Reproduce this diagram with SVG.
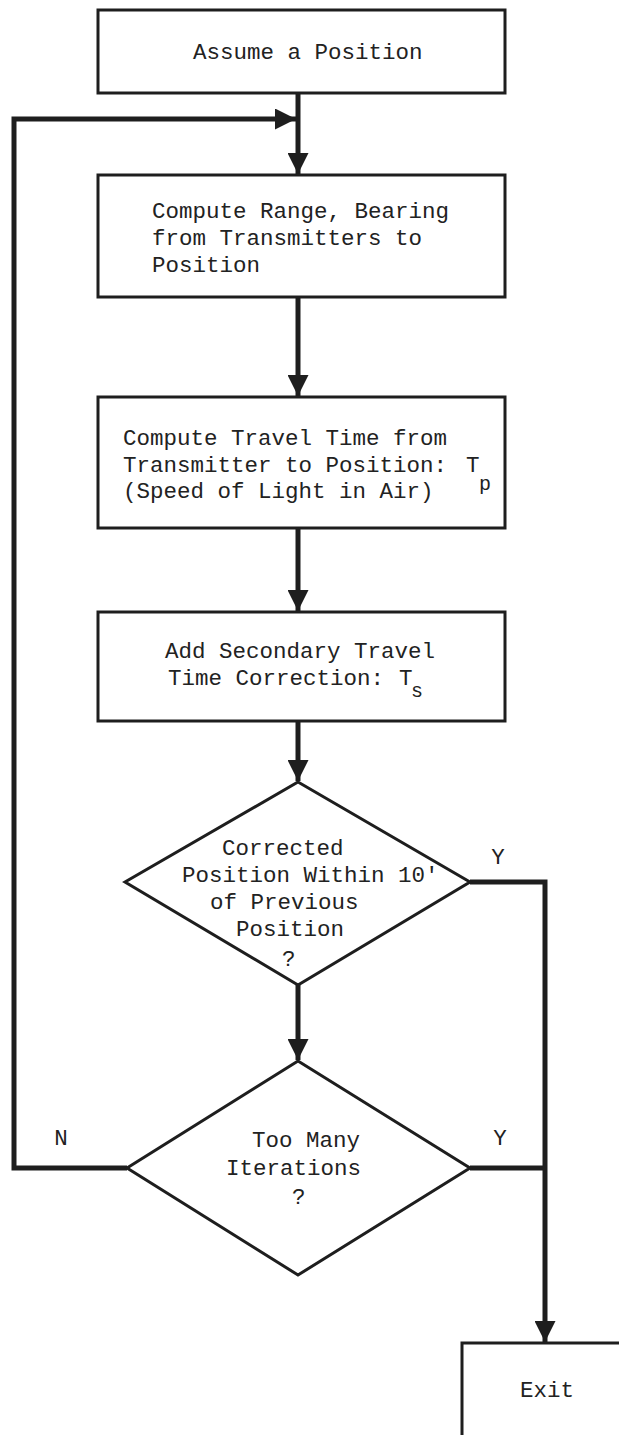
<svg xmlns="http://www.w3.org/2000/svg" width="619" height="1435" viewBox="0 0 619 1435">
<defs>
<style>
.box{fill:#fff;stroke:#1e1e1e;stroke-width:3}
.dia{fill:#fff;stroke:#1e1e1e;stroke-width:3;stroke-linejoin:miter}
.con{fill:none;stroke:#1e1e1e;stroke-width:5;stroke-linejoin:miter}
.t{font-family:"Liberation Mono","Courier New",monospace;font-size:22.5px;fill:#222}
.s{font-family:"Liberation Mono","Courier New",monospace;font-size:20px;fill:#222}
</style>
<marker id="ah" viewBox="0 0 10 10" refX="10" refY="5" markerWidth="4.2" markerHeight="4.2" orient="auto" markerUnits="strokeWidth">
<path d="M0,0 L10,5 L0,10 Z" fill="#1e1e1e"/>
</marker>
</defs>
<rect width="619" height="1435" fill="#fff"/>
<g id="connectors">
<line class="con" x1="298" y1="93" x2="298" y2="174" marker-end="url(#ah)"/>
<polyline class="con" points="127,1168 14,1168 14,119 296,119" marker-end="url(#ah)"/>
<line class="con" x1="298" y1="297" x2="298" y2="396" marker-end="url(#ah)"/>
<line class="con" x1="298" y1="528" x2="298" y2="611" marker-end="url(#ah)"/>
<line class="con" x1="298" y1="721" x2="298" y2="781" marker-end="url(#ah)"/>
<line class="con" x1="298" y1="985" x2="298" y2="1060" marker-end="url(#ah)"/>
<polyline class="con" points="470,882 545,882 545,1342" marker-end="url(#ah)"/>
<line class="con" x1="470" y1="1168" x2="545" y2="1168"/>
<text class="t" x="498" y="864" text-anchor="middle">Y</text>
<text class="t" x="500" y="1145" text-anchor="middle">Y</text>
<text class="t" x="61" y="1145" text-anchor="middle">N</text>
</g>
<g id="assume">
<rect class="box" x="98" y="10" width="407" height="83"/>
<text class="t" x="193" y="59">Assume a Position</text>
</g>
<g id="range">
<rect class="box" x="98" y="175" width="407" height="122"/>
<text class="t" x="152" y="218">Compute Range, Bearing</text>
<text class="t" x="152" y="245">from Transmitters to</text>
<text class="t" x="152" y="272">Position</text>
</g>
<g id="travel">
<rect class="box" x="98" y="397" width="407" height="131"/>
<text class="t" x="123" y="445">Compute Travel Time from</text>
<text class="t" x="123" y="472">Transmitter to Position:</text>
<text class="t" x="466" y="472">T</text>
<text class="s" x="479" y="490">p</text>
<text class="t" x="123" y="498">(Speed of Light in Air)</text>
</g>
<g id="secondary">
<rect class="box" x="98" y="612" width="407" height="109"/>
<text class="t" x="165" y="658">Add Secondary Travel</text>
<text class="t" x="168" y="685">Time Correction:</text>
<text class="t" x="399" y="685">T</text>
<text class="s" x="411" y="697">s</text>
</g>
<g id="within">
<polygon class="dia" points="298,782 470,882 298,985 125,882"/>
<text class="t" x="222" y="855">Corrected</text>
<text class="t" x="182" y="882">Position Within 10'</text>
<text class="t" x="210" y="909">of Previous</text>
<text class="t" x="236" y="936">Position</text>
<text class="t" x="282" y="966">?</text>
</g>
<g id="iterations">
<polygon class="dia" points="298,1061 470,1168 298,1275 127,1168"/>
<text class="t" x="252" y="1147">Too Many</text>
<text class="t" x="226" y="1175">Iterations</text>
<text class="t" x="292" y="1204">?</text>
</g>
<g id="exit">
<path class="box" d="M462,1440 V1343 H625"/>
<text class="t" x="520" y="1397">Exit</text>
</g>
</svg>
